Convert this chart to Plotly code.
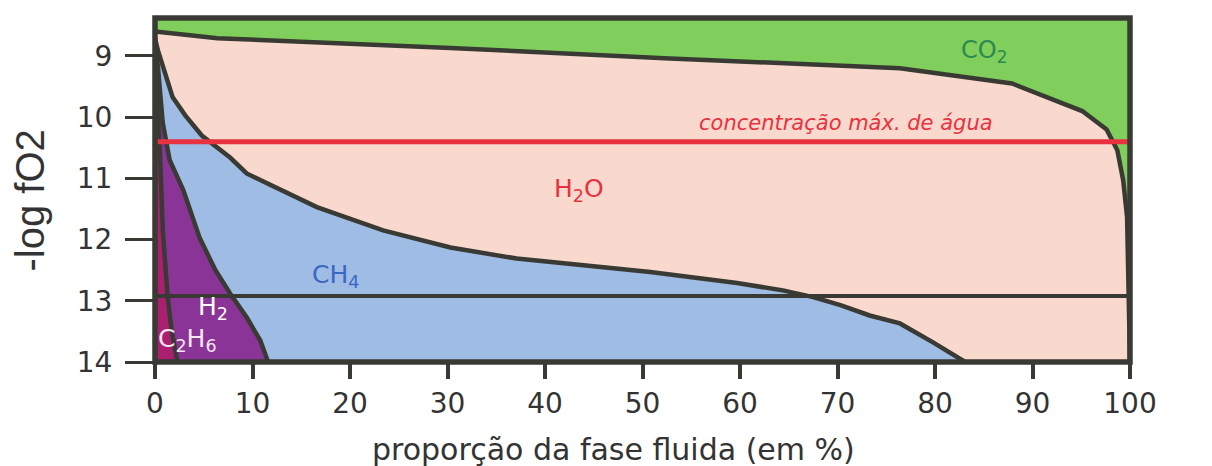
import plotly.graph_objects as go

# Fluid composition fields vs. oxygen fugacity
# Boundaries are given as (x = fluid proportion %, y = -log fO2) paths from the top-left corner downwards.

y_top = 8.38
y_bottom = 14.0

# CO2 / H2O boundary
co2_h2o_x = [0, 6.4, 30.3, 52.8, 76.4, 87.9, 95.1, 97.6, 98.7, 99.3, 99.7, 100]
co2_h2o_y = [8.60, 8.71, 8.87, 9.04, 9.20, 9.45, 9.90, 10.20, 10.54, 11.03, 11.63, 14.0]

# H2O / CH4 boundary
h2o_ch4_x = [0, 0.3, 1.8, 3.1, 4.8, 7.7, 9.4, 16.6, 23.4, 30.3, 37.1, 45.6, 50.8, 59.7,
             64.4, 67.5, 70.3, 73.3, 76.4, 79.8, 83.1]
h2o_ch4_y = [8.71, 8.91, 9.67, 9.97, 10.30, 10.66, 10.92, 11.47, 11.85, 12.13, 12.31, 12.45,
             12.53, 12.71, 12.83, 12.94, 13.07, 13.24, 13.37, 13.68, 14.0]

# CH4 / H2 boundary
ch4_h2_x = [0, 0.3, 0.8, 1.5, 2.9, 4.6, 6.2, 7.7, 9.4, 10.8, 11.6]
ch4_h2_y = [8.79, 9.18, 10.10, 10.70, 11.19, 11.98, 12.50, 12.88, 13.27, 13.65, 14.0]

# H2 / C2H6 boundary
h2_c2h6_x = [0, 0.5, 0.8, 1.3, 1.7, 2.3]
h2_c2h6_y = [9.23, 10.54, 11.85, 12.94, 13.48, 14.0]

iw_level = 12.92          # IW buffer
fmq_level = 8.68          # FMQ buffer label position
max_water_level = 10.40   # maximum water concentration

x_ticks = [0, 10, 20, 30, 40, 50, 60, 70, 80, 90, 100]
y_ticks = [9, 10, 11, 12, 13, 14]

DARK = "#3a3a34"
GREEN = "#80ce5c"
PINK = "#f9d8cd"
BLUE = "#9ebce4"
PURPLE = "#8b3498"
MAGENTA = "#aa1f70"
RED = "#e8323f"
TEXT = "#333333"
FONT = "DejaVu Sans"

fig = go.Figure()


def field(xs, ys, color):
    # region lying below/left of a boundary path, closed along the left and bottom edges
    px = list(xs) + [0, 0]
    py = list(ys) + [y_bottom, ys[0]]
    fig.add_trace(go.Scatter(x=px, y=py, fill="toself", fillcolor=color, mode="none",
                             hoverinfo="skip", showlegend=False))


# CO2 occupies everything above the CO2/H2O boundary
fig.add_trace(go.Scatter(
    x=[0, 100, 100] + co2_h2o_x[::-1] + [0],
    y=[y_top, y_top, y_bottom] + co2_h2o_y[::-1] + [y_top],
    fill="toself", fillcolor=GREEN, mode="none", hoverinfo="skip", showlegend=False))
field(co2_h2o_x, co2_h2o_y, PINK)
field(h2o_ch4_x, h2o_ch4_y, BLUE)
field(ch4_h2_x, ch4_h2_y, PURPLE)
field(h2_c2h6_x, h2_c2h6_y, MAGENTA)

for bx, by in [(co2_h2o_x, co2_h2o_y), (h2o_ch4_x, h2o_ch4_y),
               (ch4_h2_x, ch4_h2_y), (h2_c2h6_x, h2_c2h6_y)]:
    fig.add_trace(go.Scatter(x=bx, y=by, mode="lines", line=dict(color=DARK, width=4.5),
                             hoverinfo="skip", showlegend=False))

# IW buffer line
fig.add_trace(go.Scatter(x=[0, 100], y=[iw_level, iw_level], mode="lines",
                         line=dict(color=DARK, width=4), hoverinfo="skip", showlegend=False))
# maximum water concentration
fig.add_trace(go.Scatter(x=[0, 100], y=[max_water_level, max_water_level], mode="lines",
                         line=dict(color=RED, width=5), hoverinfo="skip", showlegend=False))

# plot frame
fig.add_shape(type="rect", xref="paper", yref="paper", x0=0, x1=1, y0=0, y1=1,
              line=dict(color=DARK, width=5.5), layer="above")

ann = [
    dict(x=85.0, y=8.93, text="CO<sub>2</sub>", font=dict(size=24, color="#2b8a4e")),
    dict(x=43.5, y=11.19, text="H<sub>2</sub>O", font=dict(size=25, color=RED)),
    dict(x=18.5, y=12.60, text="CH<sub>4</sub>", font=dict(size=25, color="#3a66c4")),
    dict(x=5.9, y=13.12, text="H<sub>2</sub>", font=dict(size=25, color="white")),
    dict(x=3.3, y=13.64, text="C<sub>2</sub>H<sub>6</sub>", font=dict(size=25, color="#f6e6f0")),
    dict(x=70.9, y=10.10, text="<i>concentração máx. de água</i>", font=dict(size=21, color=RED)),
    dict(x=101.3, y=fmq_level, text="FMQ", xanchor="left", font=dict(size=28, color=TEXT)),
    dict(x=101.6, y=iw_level, text="IW", xanchor="left", font=dict(size=28, color=TEXT)),
]
for a in ann:
    a.setdefault("xanchor", "center")
    fig.add_annotation(showarrow=False, xref="x", yref="y", yanchor="middle",
                       font_family=FONT, **a)

# axis titles
fig.add_annotation(x=-0.128, y=0.47, xref="paper", yref="paper", text="-log fO2",
                   textangle=-90, showarrow=False, xanchor="center", yanchor="middle",
                   font=dict(family="Liberation Sans", size=40, color=TEXT))
fig.add_annotation(x=0.47, y=-0.255, xref="paper", yref="paper",
                   text="proporção da fase fluida (em %)", xanchor="center", yanchor="middle",
                   showarrow=False, font=dict(family=FONT, size=30, color=TEXT))

fig.update_layout(
    width=1212, height=466,
    margin=dict(l=155, r=82, t=18, b=104),
    paper_bgcolor="white", plot_bgcolor="white",
    font=dict(family=FONT, color=TEXT),
    xaxis=dict(range=[0, 100], tickvals=x_ticks, ticks="outside", ticklen=16, tickwidth=3.5,
               tickcolor=DARK, showgrid=False, zeroline=False, showline=False,
               tickfont=dict(size=28, color=TEXT)),
    yaxis=dict(range=[y_bottom, y_top], tickvals=y_ticks, ticks="outside", ticklen=29,
               tickwidth=2.5, tickcolor=DARK, showgrid=False, zeroline=False, showline=False,
               tickfont=dict(size=28, color=TEXT), ticklabelstandoff=7),
)

fig.write_html("out.html")
